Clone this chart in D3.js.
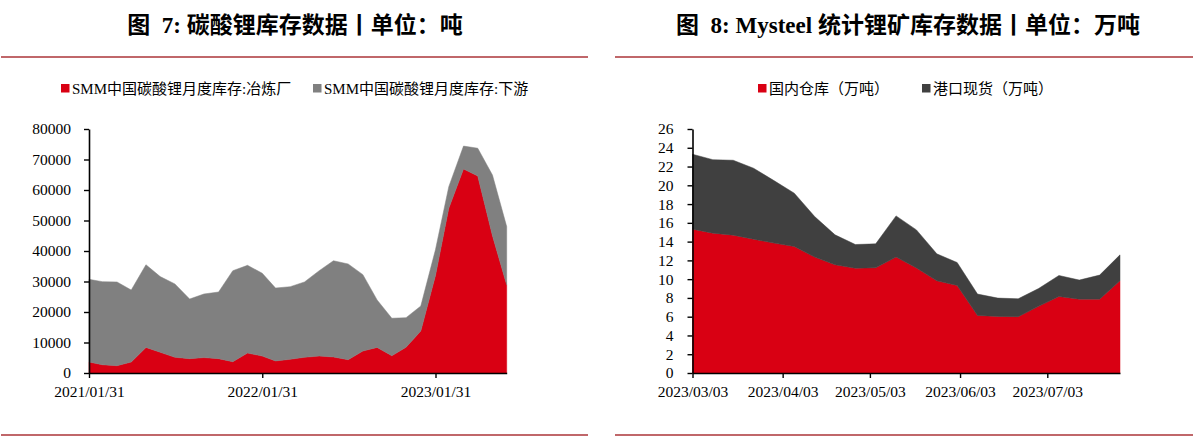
<!DOCTYPE html>
<html><head><meta charset="utf-8">
<script src="https://cdn.jsdelivr.net/npm/d3@7"></script>
<style>
html,body{margin:0;padding:0;background:#fff;}
svg{display:block;}
</style></head>
<body>
<svg id="c" width="1201" height="439"></svg>
<script>
// ---------- Chart 7 data (tons) ----------
const leftDates = ["2021-01-31","2021-02-28","2021-03-31","2021-04-30","2021-05-31","2021-06-30",
  "2021-07-31","2021-08-31","2021-09-30","2021-10-31","2021-11-30","2021-12-31",
  "2022-01-31","2022-02-28","2022-03-31","2022-04-30","2022-05-31","2022-06-30",
  "2022-07-31","2022-08-31","2022-09-30","2022-10-31","2022-11-30","2022-12-31",
  "2023-01-31","2023-02-28","2023-03-31","2023-04-30","2023-05-31","2023-06-30"];
const smelter = [3600,2700,2400,3600,8400,6800,5150,4700,5050,4700,3700,6550,
  5550,3950,4500,5150,5550,5250,4350,7200,8400,5650,8450,13750,32000,54000,66900,64600,45000,28850];
const downstream = [27100,27250,27450,23600,27100,24800,24050,19550,20850,21850,29850,28750,
  27150,23900,23800,24700,28000,31550,31400,25050,15550,12300,9700,8200,8500,7100,7500,9100,19900,19150];
const leftYTicks = [0,10000,20000,30000,40000,50000,60000,70000,80000];
const leftXTicks = ["2021-01-31","2022-01-31","2023-01-31"];
const leftSeriesNames = ["SMM中国碳酸锂月度库存:冶炼厂","SMM中国碳酸锂月度库存:下游"];

// ---------- Chart 8 data (10k tons) ----------
const rightDates = ["2023-03-03","2023-03-10","2023-03-17","2023-03-24","2023-03-31","2023-04-07",
  "2023-04-14","2023-04-21","2023-04-28","2023-05-05","2023-05-12","2023-05-19","2023-05-26",
  "2023-06-02","2023-06-09","2023-06-16","2023-06-23","2023-06-30","2023-07-07","2023-07-14",
  "2023-07-21","2023-07-28"];
const domestic = [15.33,14.90,14.69,14.26,13.84,13.48,12.35,11.53,11.17,11.21,12.35,11.2,9.82,
  9.33,6.13,6.03,6.0,7.1,8.15,7.87,7.87,9.82];
const port = [7.98,7.83,7.98,7.56,6.66,5.68,4.32,3.19,2.52,2.55,4.39,4.05,2.88,
  2.44,2.28,1.95,1.91,1.9,2.24,2.03,2.56,2.77];
const rightYTicks = [0,2,4,6,8,10,12,14,16,18,20,22,24,26];
const rightXTicks = ["2023-03-03","2023-04-03","2023-05-03","2023-06-03","2023-07-03"];
const rightSeriesNames = ["国内仓库（万吨）","港口现货（万吨）"];

const parse = d3.timeParse("%Y-%m-%d");
const fmt = d3.timeFormat("%Y/%m/%d");
const svg = d3.select("#c");
const RULE = "#c0676a";
const serif = '"Liberation Serif","Times New Roman","Noto Sans CJK SC",serif';

function drawPanel(o){
  const g = svg.append("g");
  g.append("text").attr("x",o.titleX).attr("y",33).attr("text-anchor","middle")
    .attr("font-family",serif).attr("font-weight","bold").attr("font-size","23px")
    .attr("fill","#000").attr("xml:space","preserve").text(o.title);
  [57,435].forEach(y=>{
    g.append("line").attr("x1",o.ruleX0).attr("x2",o.ruleX1).attr("y1",y).attr("y2",y)
      .attr("stroke",RULE).attr("stroke-width",2.2);
  });
  o.legend.forEach((l,i)=>{
    g.append("rect").attr("x",l.x).attr("y",84).attr("width",8.5).attr("height",8.5).attr("fill",o.colors[i]);
    g.append("text").attr("x",l.x+11).attr("y",93.5).attr("font-family",serif)
      .attr("font-size","15px").attr("fill","#000").text(o.names[i]);
  });
  const dates = o.dates.map(parse);
  const x = d3.scaleTime().domain([dates[0],dates[dates.length-1]]).range([o.x0,o.x1]);
  const y = d3.scaleLinear().domain([0,o.yMax]).range([373,129]);
  const rows = dates.map((d,i)=>({date:d, a:o.s1[i], b:o.s2[i]}));
  const stack = d3.stack().keys(["a","b"])(rows);
  const area = d3.area().x(d=>x(d.data.date)).y0(d=>y(d[0])).y1(d=>y(d[1])).curve(d3.curveLinear);
  g.selectAll("path.area").data(stack).join("path").attr("class","area")
    .attr("d",area).attr("fill",(d,i)=>o.colors[i]).attr("stroke",(d,i)=>o.colors[i]).attr("stroke-width",0.5);
  const ya = g.append("g").attr("transform",`translate(${o.x0},0)`)
    .call(d3.axisLeft(y).tickValues(o.yTicks).tickFormat(d3.format("d")).tickSize(5).tickPadding(o.yPad).tickSizeOuter(0));
  const xa = g.append("g").attr("transform","translate(0,373)")
    .call(d3.axisBottom(x).tickValues(o.xTicks.map(parse)).tickFormat(fmt).tickSize(5).tickPadding(8).tickSizeOuter(0));
  [ya,xa].forEach(a=>{
    a.attr("font-family",serif).attr("font-size",15.5);
    a.selectAll(".tick text").attr("font-family",serif).attr("font-size","15.5px").attr("fill","#000");
    a.select(".domain").attr("stroke","#000").attr("stroke-width",1.6);
    a.selectAll(".tick line").attr("stroke","#000").attr("stroke-width",1.4);
  });
}

drawPanel({
  title:"图  7: 碳酸锂库存数据丨单位：吨", titleX:295, ruleX0:1, ruleX1:588,
  legend:[{x:61},{x:313}], names:leftSeriesNames, colors:["#d90013","#808080"],
  dates:leftDates, s1:smelter, s2:downstream, x0:89, x1:506.7, yMax:80000,
  yTicks:leftYTicks, xTicks:leftXTicks, yPad:13
});
drawPanel({
  title:"图  8: Mysteel 统计锂矿库存数据丨单位：万吨", titleX:908, ruleX0:615, ruleX1:1193,
  legend:[{x:758},{x:922}], names:rightSeriesNames, colors:["#d90013","#404040"],
  dates:rightDates, s1:domestic, s2:port, x0:692.5, x1:1120, yMax:26,
  yTicks:rightYTicks, xTicks:rightXTicks, yPad:14
});
</script>
</body></html>
